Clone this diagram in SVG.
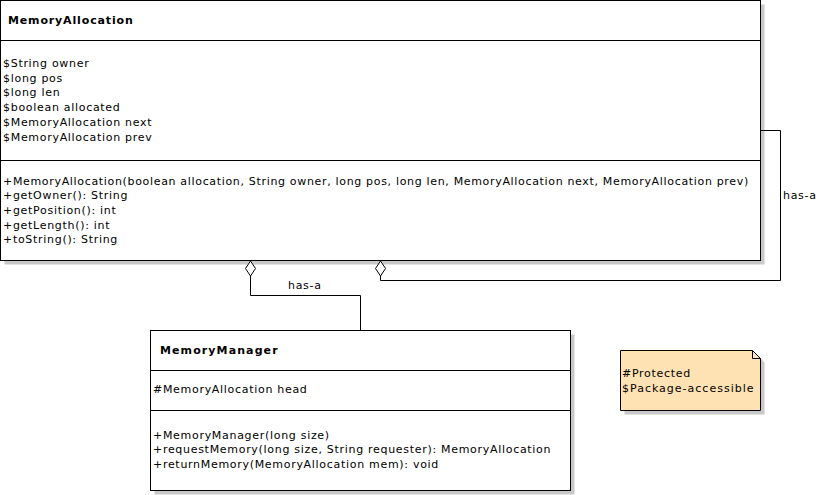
<svg xmlns="http://www.w3.org/2000/svg" width="823" height="495" viewBox="0 0 823 495">
<style>
text{font-family:"DejaVu Sans",sans-serif;font-size:11px;letter-spacing:0.7px;fill:#000}
.t{font-weight:bold;letter-spacing:0.85px}
.box{fill:#fff;stroke:#000;stroke-width:1}
.sh{fill:#c8c8c8}
.ln{fill:none;stroke:#000;stroke-width:1}
.dia{fill:#fff;stroke:#000;stroke-width:1}
</style>
<rect width="823" height="495" fill="#fff"/>
<g id="MemoryAllocation">
<rect class="sh" x="4.5" y="4.5" width="760" height="260"/>
<rect class="box" x="0.5" y="0.5" width="760" height="260"/>
<line class="ln" x1="0.5" y1="40.5" x2="760.5" y2="40.5"/>
<line class="ln" x1="0.5" y1="160.5" x2="760.5" y2="160.5"/>
<text class="t" x="8" y="24">MemoryAllocation</text>
<text x="3" y="67">$String owner</text>
<text x="3" y="81.7">$long pos</text>
<text x="3" y="96.4">$long len</text>
<text x="3" y="111.1">$boolean allocated</text>
<text x="3" y="125.8">$MemoryAllocation next</text>
<text x="3" y="140.5">$MemoryAllocation prev</text>
<text x="3" y="184.5" style="letter-spacing:0.67px">+MemoryAllocation(boolean allocation, String owner, long pos, long len, MemoryAllocation next, MemoryAllocation prev)</text>
<text x="3" y="199.2">+getOwner(): String</text>
<text x="3" y="213.9">+getPosition(): int</text>
<text x="3" y="228.6">+getLength(): int</text>
<text x="3" y="243.3">+toString(): String</text>
</g>
<g id="MemoryManager">
<rect class="sh" x="154.5" y="334.5" width="420" height="160"/>
<rect class="box" x="150.5" y="330.5" width="420" height="160"/>
<line class="ln" x1="150.5" y1="370.5" x2="570.5" y2="370.5"/>
<line class="ln" x1="150.5" y1="410.5" x2="570.5" y2="410.5"/>
<text class="t" x="160" y="354" style="letter-spacing:1.1px">MemoryManager</text>
<text x="153" y="393">#MemoryAllocation head</text>
<text x="153" y="438.5">+MemoryManager(long size)</text>
<text x="153" y="453.2">+requestMemory(long size, String requester): MemoryAllocation</text>
<text x="153" y="467.9">+returnMemory(MemoryAllocation mem): void</text>
</g>
<g id="note">
<polygon class="sh" points="624.5,354.5 756.5,354.5 764.5,362.5 764.5,414.5 624.5,414.5"/>
<polygon points="620.5,350.5 752.5,350.5 760.5,358.5 760.5,410.5 620.5,410.5" fill="#ffe2b4" stroke="#000" stroke-width="1"/>
<polyline class="ln" points="752.5,350.5 752.5,358.5 760.5,358.5"/>
<text x="622" y="377">#Protected</text>
<text x="622" y="391.5" style="letter-spacing:1px">$Package-accessible</text>
</g>
<g id="connectors">
<polyline class="ln" points="250.5,276 250.5,295.5 360.5,295.5 360.5,330.5"/>
<polygon class="dia" points="250.5,261 255.5,268.5 250.5,276 245.5,268.5"/>
<text x="288" y="288.5">has-a</text>
<polyline class="ln" points="380.5,276 380.5,280.5 780.5,280.5 780.5,130.5 760.5,130.5"/>
<polygon class="dia" points="380.5,261 385.5,268.5 380.5,276 375.5,268.5"/>
<text x="783" y="198.5">has-a</text>
</g>
</svg>
